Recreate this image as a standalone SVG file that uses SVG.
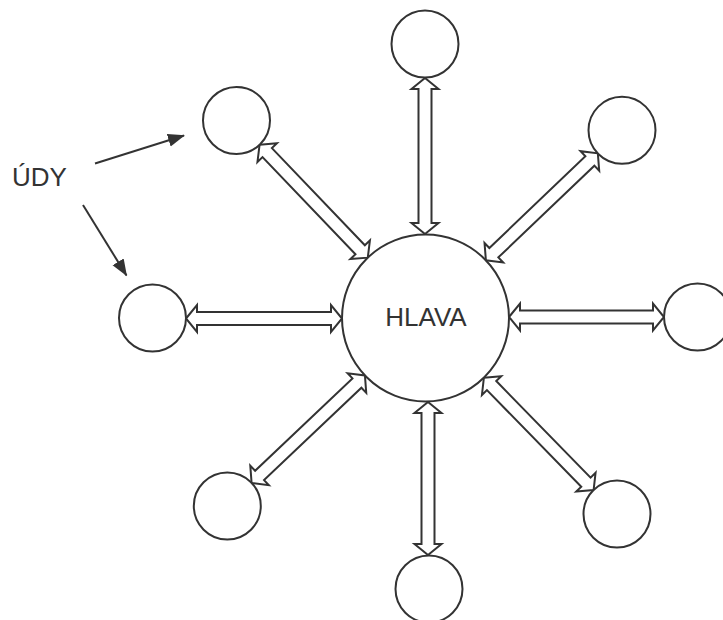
<svg xmlns="http://www.w3.org/2000/svg" width="723" height="620" viewBox="0 0 723 620">
<style>
.node{fill:#ffffff;stroke:#333333;stroke-width:2}
.ba{fill:#ffffff;stroke:#333333;stroke-width:2;stroke-linejoin:miter}
.ptr{fill:none;stroke:#333333;stroke-width:2}
.lbl{font-family:"Liberation Sans",Arial,sans-serif;font-size:26px;fill:#333333}
</style>
<defs>
<marker id="ah" markerUnits="userSpaceOnUse" markerWidth="18" markerHeight="14" refX="16" refY="6.5" orient="auto">
<path d="M0,0 L17,6.5 L0,13 z" fill="#333333"/>
</marker>
</defs>
<rect width="723" height="620" fill="#ffffff"/>
<g id="connectors">
<polygon class="ba" transform="translate(425,78) rotate(90)" points="0,0 11,-13.5 11,-6.5 145,-6.5 145,-13.5 156,0 145,13.5 145,6.5 11,6.5 11,13.5"/>
<polygon class="ba" transform="translate(259.6,144.7) rotate(46.24)" points="0,0 11,-13.5 11,-6.5 145.4,-6.5 145.4,-13.5 156.4,0 145.4,13.5 145.4,6.5 11,6.5 11,13.5"/>
<polygon class="ba" transform="translate(485.9,260.3) rotate(-43.69)" points="0,0 11,-13.5 11,-6.5 143.8,-6.5 143.8,-13.5 154.8,0 143.8,13.5 143.8,6.5 11,6.5 11,13.5"/>
<polygon class="ba" transform="translate(186,318.5)" points="0,0 11,-13.5 11,-6.5 145,-6.5 145,-13.5 156,0 145,13.5 145,6.5 11,6.5 11,13.5"/>
<polygon class="ba" transform="translate(509,317)" points="0,0 11,-13.5 11,-6.5 144,-6.5 144,-13.5 155,0 144,13.5 144,6.5 11,6.5 11,13.5"/>
<polygon class="ba" transform="translate(251.6,483) rotate(-43.49)" points="0,0 11,-13.5 11,-6.5 145.2,-6.5 145.2,-13.5 156.2,0 145.2,13.5 145.2,6.5 11,6.5 11,13.5"/>
<polygon class="ba" transform="translate(428,402) rotate(90)" points="0,0 11,-13.5 11,-6.5 142,-6.5 142,-13.5 153,0 142,13.5 142,6.5 11,6.5 11,13.5"/>
<polygon class="ba" transform="translate(483.9,377.7) rotate(45.67)" points="0,0 11,-13.5 11,-6.5 146,-6.5 146,-13.5 157,0 146,13.5 146,6.5 11,6.5 11,13.5"/>
<line class="ptr" x1="95" y1="163.5" x2="184" y2="135.5" marker-end="url(#ah)"/>
<line class="ptr" x1="83" y1="205" x2="126.5" y2="275.5" marker-end="url(#ah)"/>
</g>
<g id="hlava">
<circle class="node" cx="425.5" cy="318" r="83.5"/>
<text class="lbl" x="426" y="326" text-anchor="middle">HLAVA</text>
</g>
<g id="limb-top"><circle class="node" cx="425" cy="44" r="33.5"/></g>
<g id="limb-top-left"><circle class="node" cx="236.5" cy="120.5" r="33.5"/></g>
<g id="limb-top-right"><circle class="node" cx="622" cy="130.3" r="33.5"/></g>
<g id="limb-left"><circle class="node" cx="152.5" cy="318" r="33.5"/></g>
<g id="limb-right"><circle class="node" cx="697.5" cy="317" r="33.5"/></g>
<g id="limb-bottom-left"><circle class="node" cx="227.3" cy="506" r="33.5"/></g>
<g id="limb-bottom"><circle class="node" cx="429" cy="589" r="33.5"/></g>
<g id="limb-bottom-right"><circle class="node" cx="617" cy="514" r="33.5"/></g>
<g id="udy-label">
<text class="lbl" x="12" y="186">ÚDY</text>
</g>
</svg>
